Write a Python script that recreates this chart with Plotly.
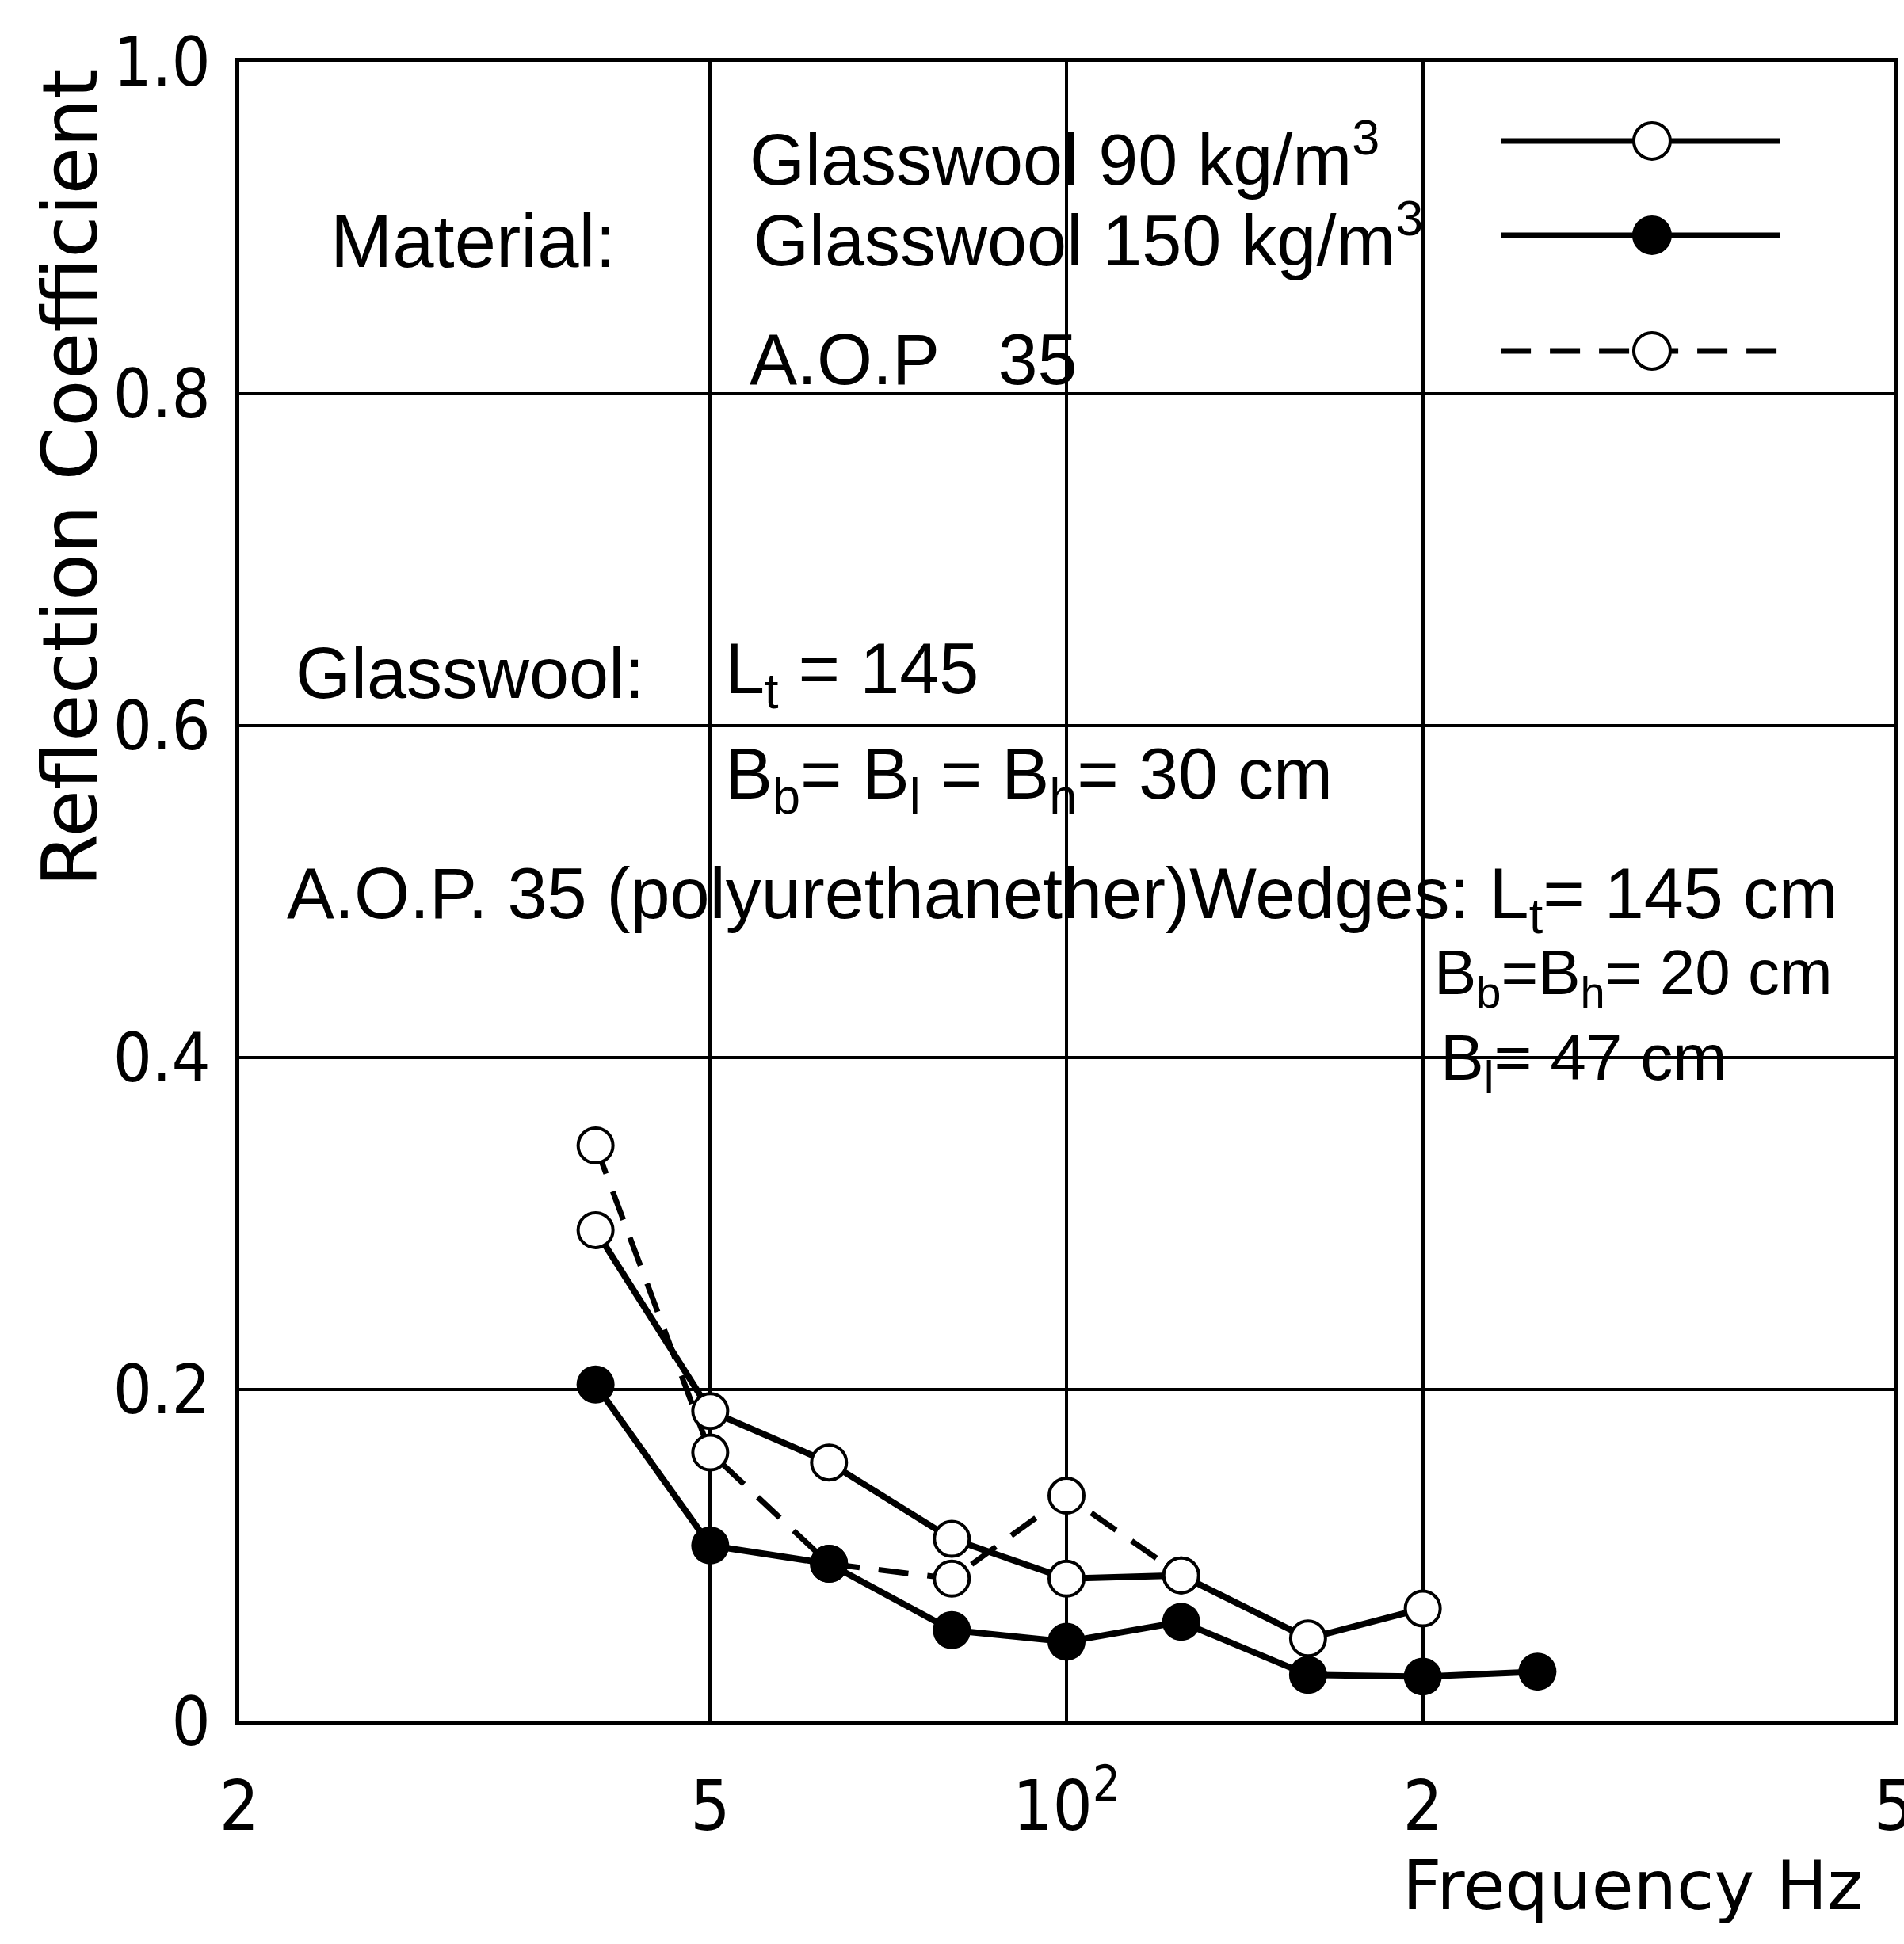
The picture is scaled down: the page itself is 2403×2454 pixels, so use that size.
import plotly.graph_objects as go

# ---- data ----
freq_hz = [40, 50, 63, 80, 100, 125, 160, 200, 250]
glasswool_90 = [0.296, 0.187, 0.156, 0.110, 0.086, 0.088, 0.050, 0.068]
glasswool_150 = [0.203, 0.106, 0.095, 0.055, 0.048, 0.060, 0.028, 0.027, 0.030]
aop_35 = [0.347, 0.162, 0.095, 0.086, 0.136, 0.088]

x_tick_vals = [20, 50, 100, 200, 500]
x_tick_text = ["2", "5", "10<sup>2</sup>", "2", "5"]
y_tick_vals = [0, 0.2, 0.4, 0.6, 0.8, 1.0]
y_tick_text = ["0", "0.2", "0.4", "0.6", "0.8", "1.0"]

TXT = "Liberation Sans, Arial, sans-serif"
TICK = "DejaVu Sans Condensed, Liberation Sans Narrow, Liberation Sans, Arial, sans-serif"
TITLE = "DejaVu Sans, sans-serif"
BLACK = "#000000"

fig = go.Figure()

open_marker = dict(symbol="circle", size=44, color="white", line=dict(color=BLACK, width=4))
filled_marker = dict(symbol="circle", size=48, color=BLACK, line=dict(color=BLACK, width=0))
DASH = "38px,24px"

fig.add_trace(go.Scatter(
    x=freq_hz[:len(aop_35)], y=aop_35, mode="lines+markers",
    line=dict(color=BLACK, width=7, dash=DASH),
    marker=open_marker, name="A.O.P 35", showlegend=False))
fig.add_trace(go.Scatter(
    x=freq_hz[:len(glasswool_150)], y=glasswool_150, mode="lines+markers",
    line=dict(color=BLACK, width=8),
    marker=filled_marker, name="Glasswool 150 kg/m³", showlegend=False))
fig.add_trace(go.Scatter(
    x=freq_hz[:len(glasswool_90)], y=glasswool_90, mode="lines+markers",
    line=dict(color=BLACK, width=8),
    marker=open_marker, name="Glasswool 90 kg/m³", showlegend=False))

W, H = 2403, 2454
L, R, T, B = 302, 13, 78, 281

fig.update_layout(
    width=W, height=H,
    margin=dict(l=L, r=R, t=T, b=B, pad=0, autoexpand=False),
    paper_bgcolor="white", plot_bgcolor="white",
    showlegend=False,
)
fig.update_xaxes(
    type="log", range=[1.30103, 2.69897], automargin=False,
    tickvals=x_tick_vals, ticktext=x_tick_text, ticks="",
    tickfont=dict(family=TICK, size=88, color=BLACK),
    ticklabelstandoff=26, ticklabeloverflow="allow",
    showgrid=True, gridcolor=BLACK, gridwidth=4,
    showline=True, linecolor=BLACK, linewidth=5, mirror=True,
    zeroline=False,
)
fig.update_yaxes(
    range=[0, 1.0], automargin=False,
    tickvals=y_tick_vals, ticktext=y_tick_text, ticks="",
    tickfont=dict(family=TICK, size=86, color=BLACK),
    ticklabelstandoff=14, ticklabeloverflow="allow",
    showgrid=True, gridcolor=BLACK, gridwidth=4,
    showline=True, linecolor=BLACK, linewidth=5, mirror=True,
    zeroline=False,
)

def ann(text, x, y, size=90, family=TXT, xanchor="left", angle=0):
    fig.add_annotation(text=text, x=x, y=y, xref="paper", yref="paper",
                       xanchor=xanchor, yanchor="middle", showarrow=False,
                       textangle=angle, font=dict(family=family, size=size, color=BLACK))

ann("Material:", 0.054, 0.892, size=94)
ann("Glasswool 90 kg/m<sup>3</sup>", 0.3075, 0.944)
ann("Glasswool 150 kg/m<sup>3</sup>", 0.310, 0.8955)
ann("A.O.P   35", 0.3075, 0.8205)
ann("Glasswool:", 0.033, 0.6315)
ann("L<sub>t</sub> = 145", 0.2926, 0.6315)
ann("B<sub>b</sub>= B<sub>l</sub> = B<sub>h</sub>= 30 cm", 0.2926, 0.568)
ann("A.O.P. 35 (polyurethanether)Wedges: L<sub>t</sub>= 145 cm", 0.0278, 0.4955)
ann("B<sub>b</sub>=B<sub>h</sub>= 20 cm", 0.7213, 0.4485, size=80)
ann("B<sub>l</sub>= 47 cm", 0.725, 0.3975, size=82)

ann("Reflection Coefficient", -0.102, 0.749, size=97, family=TITLE, xanchor="center", angle=-90)
ann("Frequency Hz", 0.842, -0.099, size=86, family=TITLE, xanchor="center")

# legend keys (decorative, in paper coordinates)
keys = [(0.9523, "solid", "white"), (0.8955, "solid", BLACK), (0.8258, DASH, "white")]
for yk, dash, fill in keys:
    fig.add_shape(type="line", xref="paper", yref="paper", x0=0.7625, x1=0.9315, y0=yk, y1=yk,
                  line=dict(color=BLACK, width=7, dash=dash))
    fig.add_shape(type="circle", xref="paper", yref="paper", xsizemode="pixel", ysizemode="pixel",
                  xanchor=0.8539, yanchor=yk, x0=-23, x1=23, y0=-23, y1=23,
                  fillcolor=fill, line=dict(color=BLACK, width=4))

fig.write_html("out.html")
